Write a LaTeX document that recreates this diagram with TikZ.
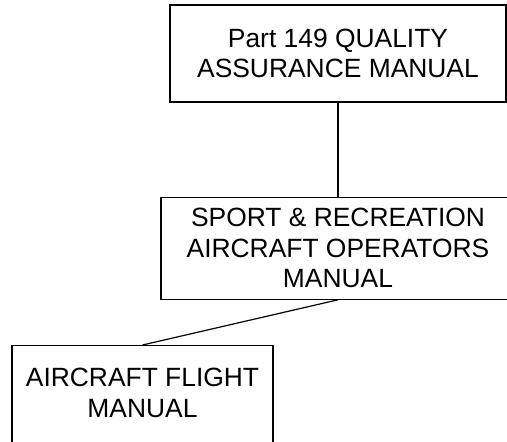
\documentclass[tikz,border=0pt]{standalone}
\usepackage{fontspec}
\setmainfont{Liberation Sans}
\usepackage{tikz}
\usetikzlibrary{positioning}

\begin{document}
\begin{tikzpicture}[
  x=1pt, y=1pt,
  every node/.style={font=\fontsize{26.4}{30.7}\selectfont},
  manual/.style={rectangle, draw=black, fill=white, line width=1.2pt,
    align=center, inner sep=0pt},
  link/.style={draw=black, line width=1.2pt},
]
\useasboundingbox (0,0) rectangle (507,-442);
\node[manual, minimum width=336pt, minimum height=97pt] (qam) at (338,-53.5)
  {Part 149 QUALITY\\ASSURANCE MANUAL};
\node[manual, minimum width=354pt, minimum height=102pt, below=94pt of qam] (sraom)
  {SPORT \& RECREATION\\AIRCRAFT OPERATORS\\MANUAL};
\node[manual, minimum width=261pt, minimum height=100pt, text depth=5pt, anchor=north] (afm) at (142.5,-345)
  {AIRCRAFT FLIGHT\\MANUAL};
% bottom edge of the last box runs off the page
\draw[link] (qam) -- (sraom);
\draw[link] (sraom.south) -- (afm.north);
\end{tikzpicture}
\end{document}
